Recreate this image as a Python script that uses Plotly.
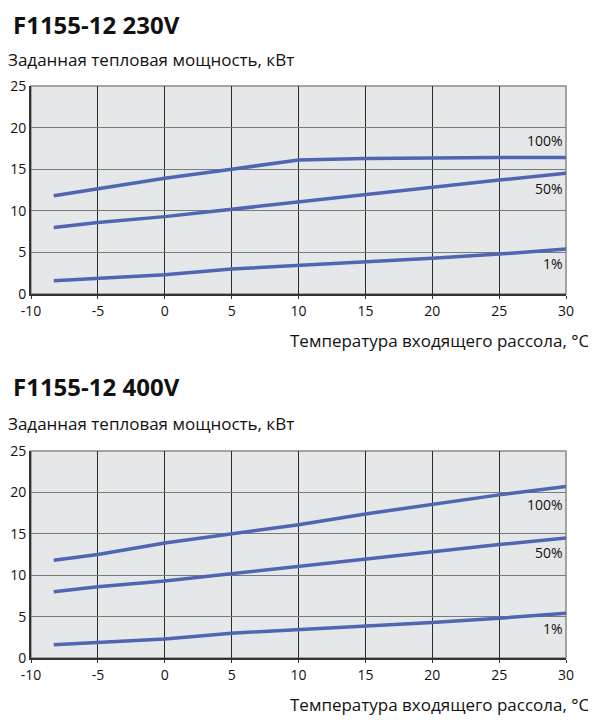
import plotly.graph_objects as go
from plotly.subplots import make_subplots

# temperature of incoming brine, degC
temp = [-8.3, -5, 0, 5, 10, 15, 20, 25, 30]

# 230V heat output, kW
p100_230 = [11.8, 12.6, 13.9, 15.0, 16.1, 16.3, 16.4, 16.4, 16.4]
p50_230 = [8.0, 8.6, 9.3, 10.2, 11.1, 12.0, 12.9, 13.7, 14.5]
p1_230 = [1.6, 1.9, 2.3, 3.0, 3.4, 3.8, 4.3, 4.8, 5.4]

# 400V heat output, kW
p100_400 = [11.8, 12.5, 13.9, 15.0, 16.1, 17.4, 18.6, 19.7, 20.7]
p50_400 = [8.0, 8.6, 9.3, 10.2, 11.1, 12.0, 12.9, 13.7, 14.5]
p1_400 = [1.6, 1.9, 2.3, 3.0, 3.4, 3.8, 4.3, 4.8, 5.4]

xticks = [-10, -5, 0, 5, 10, 15, 20, 25, 30]
xticklabels = ['-10', '-5', '0', '5', '10', '15', '20', '25', '30']
yticks = [0, 5, 10, 15, 20, 25]

labels = ['100%', '50%', '1%']
label_y_230 = [18.5, 12.7, 3.7]
label_y_400 = [18.5, 12.7, 3.6]

titles = ['F1155-12 230V', 'F1155-12 400V']
ytitle = 'Заданная тепловая мощность, кВт'
xtitle = 'Температура входящего рассола, °C'

line_col = '#4f66b0'
font = 'Open Sans, Noto Sans, sans-serif'

W, H = 596, 720
OFF = 8  # page body margin


def px(x):
    return (x - OFF) / W


def py(y):
    return 1 - (y - OFF) / H


fig = make_subplots(rows=2, cols=1)
fig.update_layout(
    width=W, height=H, margin=dict(l=0, r=0, t=0, b=0),
    paper_bgcolor='white', plot_bgcolor='#e6e7e9', showlegend=False,
    font=dict(family=font, size=14, color='#111'),
    xaxis=dict(domain=[px(31), px(566)]), xaxis2=dict(domain=[px(31), px(566)]),
    yaxis=dict(domain=[py(294), py(86)]), yaxis2=dict(domain=[py(658), py(451)]),
)

sets = [(p100_230, p50_230, p1_230, label_y_230), (p100_400, p50_400, p1_400, label_y_400)]
for i, (a, b, c, ly) in enumerate(sets):
    row = i + 1
    for ser in (a, b, c):
        fig.add_trace(go.Scatter(x=temp, y=ser, mode='lines',
                                 line=dict(color=line_col, width=3.5)), row=row, col=1)
    for lab, yy in zip(labels, ly):
        fig.add_annotation(x=29.9, y=yy, text=lab, showarrow=False, xanchor='right',
                           font=dict(size=14), row=row, col=1)
    fig.update_xaxes(range=[-10, 30], tickvals=xticks, ticktext=xticklabels,
                     showgrid=True, gridcolor='#2a2a2a', gridwidth=1,
                     showline=True, linecolor='#333', linewidth=2, automargin=False,
                     ticks='outside', ticklen=3, tickcolor='#333', zeroline=False,
                     row=row, col=1)
    fig.update_yaxes(range=[0, 25], tickvals=yticks, showgrid=True, gridcolor='#7a7a7a', gridwidth=1,
                     showline=True, linecolor='#333', linewidth=2, automargin=False,
                     ticks='', zeroline=False, row=row, col=1)

# grey frame on top/right
for xr, yr in (('x', 'y'), ('x2', 'y2')):
    fig.add_shape(type='rect', xref=xr + ' domain', yref=yr + ' domain', x0=0, x1=1, y0=0, y1=1,
                  line=dict(color='#8a8a8a', width=1.5), layer='below')

# titles and axis titles
for ypos, t in zip([24, 386], titles):
    fig.add_annotation(xref='paper', yref='paper', x=px(12), y=py(ypos), text='<b>' + t + '</b>',
                       showarrow=False, xanchor='left', yanchor='middle', borderpad=0,
                       font=dict(size=24, color='#111'))
for ypos in (60, 424):
    fig.add_annotation(xref='paper', yref='paper', x=px(6), y=py(ypos), text=ytitle,
                       showarrow=False, xanchor='left', yanchor='middle', font=dict(size=17))
for ypos in (340, 704):
    fig.add_annotation(xref='paper', yref='paper', x=px(592), y=py(ypos), text=xtitle,
                       showarrow=False, xanchor='right', yanchor='middle', font=dict(size=17))

fig.write_html("out.html")
